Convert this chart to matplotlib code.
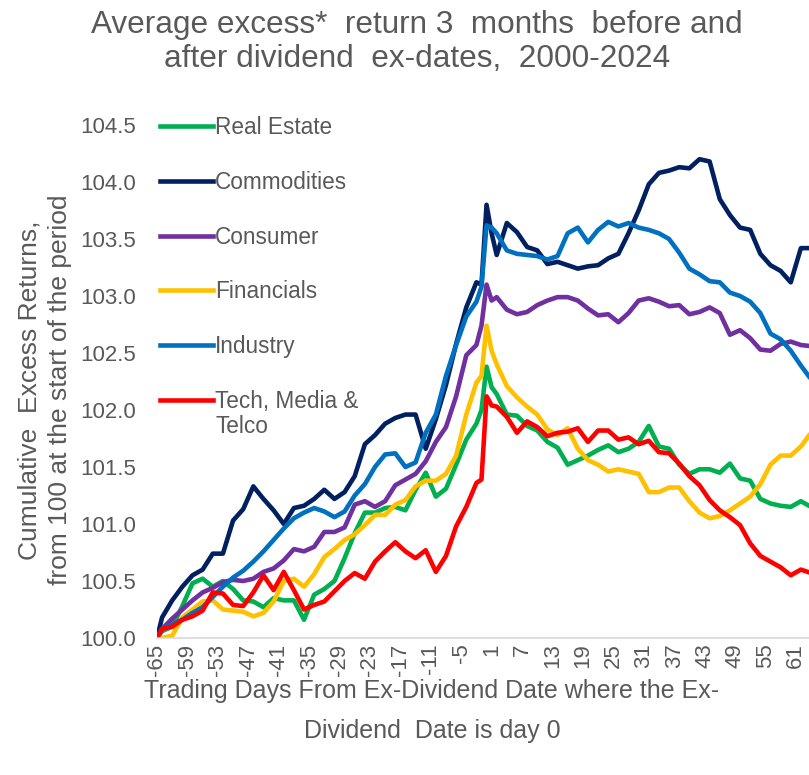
import numpy as np
import matplotlib.pyplot as plt
from matplotlib.lines import Line2D

# trading days relative to the ex-dividend date (day 0)
days = [-65, -64, -62, -60, -58, -56, -54, -52, -50, -48, -46, -44, -42, -40, -38, -36,
        -34, -32, -30, -28, -26, -24, -22, -20, -18, -16, -14, -12, -10, -8, -6, -4,
        -2, -1, 0, 1, 2, 4, 6, 8, 10, 12, 14, 16, 18, 20, 22, 24, 26, 28, 30, 32, 34,
        36, 38, 40, 42, 44, 46, 48, 50, 52, 54, 56, 58, 60, 62, 64]

real_estate = [100.00, 100.06, 100.10, 100.28, 100.48, 100.52, 100.45, 100.50, 100.43, 100.33,
               100.32, 100.27, 100.35, 100.33, 100.33, 100.16, 100.38, 100.43, 100.50, 100.70,
               100.92, 101.10, 101.10, 101.14, 101.15, 101.12, 101.30, 101.45, 101.24, 101.31,
               101.52, 101.74, 101.88, 102.00, 102.38, 102.20, 102.14, 101.96, 101.95, 101.86,
               101.82, 101.72, 101.67, 101.52, 101.56, 101.60, 101.65, 101.69, 101.63, 101.66,
               101.72, 101.86, 101.68, 101.66, 101.52, 101.44, 101.48, 101.48, 101.45, 101.53,
               101.40, 101.38, 101.22, 101.18, 101.16, 101.15, 101.20, 101.15]

commodities = [100.00, 100.18, 100.33, 100.45, 100.55, 100.60, 100.74, 100.74, 101.03, 101.13,
               101.33, 101.22, 101.12, 101.00, 101.14, 101.16, 101.22, 101.30, 101.22, 101.28,
               101.42, 101.70, 101.78, 101.88, 101.93, 101.96, 101.96, 101.66, 101.92, 102.22,
               102.58, 102.90, 103.12, 103.10, 103.80, 103.55, 103.36, 103.64, 103.56, 103.43,
               103.40, 103.28, 103.30, 103.27, 103.24, 103.26, 103.27, 103.33, 103.37, 103.55,
               103.75, 103.98, 104.08, 104.10, 104.13, 104.12, 104.20, 104.18, 103.85, 103.71,
               103.60, 103.58, 103.37, 103.27, 103.22, 103.12, 103.42, 103.42]

consumer = [100.00, 100.08, 100.17, 100.25, 100.33, 100.40, 100.44, 100.49, 100.51, 100.50,
            100.52, 100.58, 100.61, 100.68, 100.78, 100.76, 100.80, 100.93, 100.93, 100.97,
            101.17, 101.20, 101.15, 101.20, 101.34, 101.39, 101.44, 101.55, 101.72, 101.85,
            102.12, 102.48, 102.57, 102.74, 103.10, 102.96, 102.99, 102.88, 102.84, 102.86,
            102.92, 102.96, 102.99, 102.99, 102.96, 102.89, 102.83, 102.84, 102.77, 102.85,
            102.96, 102.98, 102.95, 102.91, 102.92, 102.84, 102.86, 102.90, 102.85, 102.66,
            102.70, 102.63, 102.53, 102.52, 102.58, 102.60, 102.57, 102.56]

financials = [100.00, 100.00, 100.02, 100.18, 100.25, 100.32, 100.33, 100.25, 100.24, 100.23,
              100.19, 100.22, 100.32, 100.50, 100.52, 100.45, 100.56, 100.71, 100.78, 100.86,
              100.91, 100.99, 101.08, 101.08, 101.17, 101.21, 101.33, 101.38, 101.38, 101.44,
              101.60, 101.96, 102.24, 102.30, 102.74, 102.52, 102.40, 102.21, 102.11, 102.03,
              101.96, 101.83, 101.78, 101.84, 101.66, 101.56, 101.52, 101.46, 101.48, 101.46,
              101.44, 101.28, 101.28, 101.32, 101.32, 101.20, 101.10, 101.05, 101.07, 101.12,
              101.18, 101.24, 101.35, 101.52, 101.60, 101.60, 101.68, 101.80]

industry = [100.00, 100.08, 100.12, 100.16, 100.22, 100.27, 100.36, 100.45, 100.53, 100.59,
            100.67, 100.76, 100.86, 100.96, 101.05, 101.10, 101.14, 101.11, 101.06, 101.11,
            101.25, 101.35, 101.50, 101.61, 101.62, 101.50, 101.54, 101.80, 101.96, 102.30,
            102.57, 102.82, 102.95, 103.08, 103.62, 103.60, 103.55, 103.40, 103.37, 103.36,
            103.35, 103.32, 103.35, 103.55, 103.60, 103.47, 103.58, 103.65, 103.61, 103.64,
            103.60, 103.58, 103.55, 103.50, 103.38, 103.24, 103.19, 103.13, 103.12, 103.03,
            103.00, 102.95, 102.85, 102.67, 102.62, 102.52, 102.39, 102.27]

tech_media_telco = [100.00, 100.08, 100.10, 100.16, 100.19, 100.24, 100.40, 100.39, 100.29, 100.28,
                    100.40, 100.55, 100.42, 100.58, 100.42, 100.25, 100.29, 100.32, 100.41, 100.50,
                    100.57, 100.52, 100.67, 100.76, 100.84, 100.76, 100.70, 100.77, 100.58, 100.72,
                    100.98, 101.15, 101.36, 101.39, 102.12, 102.04, 102.03, 101.94, 101.80, 101.90,
                    101.85, 101.77, 101.80, 101.81, 101.84, 101.72, 101.82, 101.82, 101.74, 101.76,
                    101.70, 101.73, 101.63, 101.62, 101.53, 101.42, 101.34, 101.21, 101.12, 101.06,
                    100.99, 100.83, 100.72, 100.67, 100.62, 100.55, 100.60, 100.57]

names = ["Real Estate", "Commodities", "Consumer", "Financials", "Industry", "Tech, Media &\nTelco"]
series = [real_estate, commodities, consumer, financials, industry, tech_media_telco]
colors = ["#00B050", "#002060", "#7030A0", "#FFC000", "#0070C0", "#FF0000"]

GRAY = "#595959"
W, H = 809, 775
plt.rcParams["font.family"] = ["Liberation Sans", "DejaVu Sans"]

fig = plt.figure(figsize=(W / 100, H / 100), dpi=100)
ax = fig.add_axes([157 / W, 137 / H, 652 / W, 513 / H])

for vals, c in zip(series, colors):
    ax.plot(days, vals, color=c, lw=3.3, solid_joinstyle="round", solid_capstyle="round")

ax.set_xlim(-65, 63.6)
ax.set_ylim(100, 104.5)
ax.set_yticks(np.arange(100, 104.51, 0.5))
ax.yaxis.set_major_formatter(lambda v, p: f"{v:.1f}")
xt = list(range(-65, 64, 6))
ax.set_xticks(xt)
ax.set_xticklabels([str(t) for t in xt], rotation=90)
ax.tick_params(length=0, labelsize=16, labelcolor=GRAY)
ax.tick_params(axis="y", pad=15)
ax.tick_params(axis="x", pad=4)
for s in ["top", "right", "left"]:
    ax.spines[s].set_visible(False)
ax.spines["bottom"].set_color("#D9D9D9")
ax.spines["bottom"].set_linewidth(1.2)

# legend drawn by hand so the red handle sits on the first text line
for i, (name, c) in enumerate(zip(names, colors)):
    y = 1 - (126 + i * 54.8) / H
    fig.add_artist(Line2D([160 / W, 213 / W], [y, y], color=c, lw=3.3,
                          transform=fig.transFigure))
    fig.text(215 / W, y + 10 / H, name, fontsize=16.3, color=GRAY,
             ha="left", va="top", linespacing=1.12)

fig.text(417 / W, 1 - 42 / H,
         "Average excess*  return 3  months  before and\nafter dividend  ex-dates,  2000-2024",
         ha="center", va="center", fontsize=22.7, color=GRAY, linespacing=1.15)
fig.text(45 / W, 1 - 390 / H,
         "Cumulative  Excess Returns,\nfrom 100 at the start of the period",
         rotation=90, ha="center", va="center", fontsize=19, color=GRAY, linespacing=1.35)
fig.text(432 / W, 1 - 711 / H,
         "Trading Days From Ex-Dividend Date where the Ex-\nDividend  Date is day 0",
         ha="center", va="center", fontsize=18, color=GRAY, linespacing=1.8)

fig.savefig("out.png", dpi=100, facecolor="white")
